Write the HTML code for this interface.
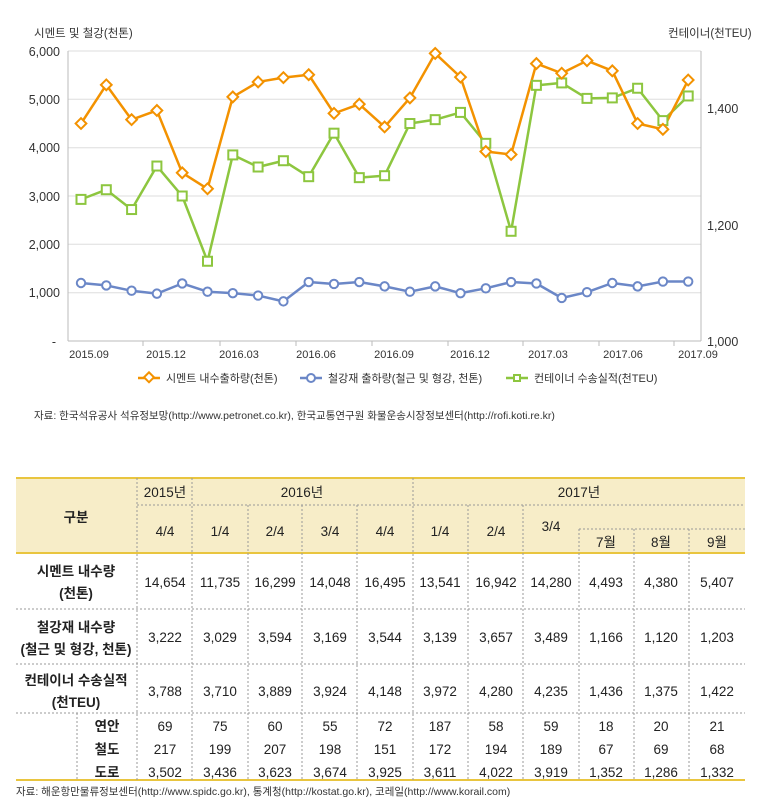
<!DOCTYPE html>
<html><head><meta charset="utf-8"><style>
body{margin:0;background:#fff}
svg{display:block;font-family:"Liberation Sans","Noto Sans CJK KR",sans-serif}
</style></head><body>
<svg id="s" width="770" height="801" viewBox="0 0 770 801" xmlns="http://www.w3.org/2000/svg">
<g stroke="#dedede" stroke-width="1">
<line x1="68" y1="51" x2="701" y2="51"/><line x1="68" y1="99.3" x2="701" y2="99.3"/><line x1="68" y1="147.7" x2="701" y2="147.7"/><line x1="68" y1="196" x2="701" y2="196"/><line x1="68" y1="244.3" x2="701" y2="244.3"/><line x1="68" y1="292.7" x2="701" y2="292.7"/>
</g>
<g stroke="#bbb" stroke-width="1"><line x1="68" y1="51" x2="68" y2="341"/><line x1="701" y1="51" x2="701" y2="341"/><line x1="68" y1="341" x2="701" y2="341"/>
<line x1="143" y1="341" x2="143" y2="346"/><line x1="220" y1="341" x2="220" y2="346"/><line x1="296" y1="341" x2="296" y2="346"/><line x1="372" y1="341" x2="372" y2="346"/><line x1="448" y1="341" x2="448" y2="346"/><line x1="523" y1="341" x2="523" y2="346"/><line x1="599" y1="341" x2="599" y2="346"/><line x1="674" y1="341" x2="674" y2="346"/></g>
<g font-size="12.5" fill="#333" text-anchor="end">
<text x="60" y="56">6,000</text><text x="60" y="104">5,000</text><text x="60" y="152">4,000</text><text x="60" y="201">3,000</text><text x="60" y="249">2,000</text><text x="60" y="297">1,000</text><text x="56" y="346">-</text></g>
<g font-size="12.5" fill="#333"><text x="707" y="113">1,400</text><text x="707" y="230">1,200</text><text x="707" y="346">1,000</text></g>
<text x="34" y="37" font-size="11.5" fill="#333">시멘트 및 철강(천톤)</text>
<text x="668" y="37" font-size="11.5" fill="#333">컨테이너(천TEU)</text>
<g font-size="11" fill="#333" text-anchor="middle"><text x="89" y="358">2015.09</text><text x="166" y="358">2015.12</text><text x="239" y="358">2016.03</text><text x="316" y="358">2016.06</text><text x="394" y="358">2016.09</text><text x="470" y="358">2016.12</text><text x="548" y="358">2017.03</text><text x="623" y="358">2017.06</text><text x="698" y="358">2017.09</text></g>
<g id="series"></g>
<g font-size="11" fill="#333">
<line x1="138" y1="378" x2="160" y2="378" stroke="#f39200" stroke-width="2.5"/><rect x="145" y="374" width="7" height="7" transform="rotate(45 149 378)" fill="#fff" stroke="#f39200" stroke-width="2"/><text x="166" y="382">시멘트 내수출하량(천톤)</text>
<line x1="300" y1="378" x2="322" y2="378" stroke="#6b87c7" stroke-width="2.5"/><circle cx="311" cy="378" r="4" fill="#fff" stroke="#6b87c7" stroke-width="2"/><text x="328" y="382">철강재 출하량(철근 및 형강, 천톤)</text>
<line x1="506" y1="378" x2="528" y2="378" stroke="#8dc63f" stroke-width="2.5"/><rect x="514" y="375" width="6" height="6" fill="#fff" stroke="#8dc63f" stroke-width="2"/><text x="534" y="382">컨테이너 수송실적(천TEU)</text>
</g>
<text x="34" y="419" font-size="10.5" fill="#333">자료: 한국석유공사 석유정보망(http://www.petronet.co.kr), 한국교통연구원 화물운송시장정보센터(http://rofi.koti.re.kr)</text>

<rect x="16" y="478" width="729" height="75" fill="#f7edc8"/>
<line x1="16" y1="478" x2="745" y2="478" stroke="#e9c53f" stroke-width="2"/>
<line x1="16" y1="553" x2="745" y2="553" stroke="#e9c53f" stroke-width="2"/>
<line x1="16" y1="780" x2="745" y2="780" stroke="#e9c53f" stroke-width="2"/>
<g stroke="#999" stroke-width="1" stroke-dasharray="2,2">
<line x1="137" y1="478" x2="137" y2="780"/><line x1="192" y1="478" x2="192" y2="780"/><line x1="248" y1="505" x2="248" y2="780"/><line x1="302" y1="505" x2="302" y2="780"/><line x1="357" y1="505" x2="357" y2="780"/><line x1="413" y1="478" x2="413" y2="780"/><line x1="468" y1="505" x2="468" y2="780"/><line x1="523" y1="505" x2="523" y2="780"/><line x1="579" y1="529" x2="579" y2="780"/><line x1="634" y1="529" x2="634" y2="780"/><line x1="689" y1="529" x2="689" y2="780"/>
<line x1="77" y1="713" x2="77" y2="780"/>
<line x1="137" y1="505" x2="745" y2="505"/><line x1="579" y1="529" x2="745" y2="529"/>
<line x1="16" y1="609" x2="745" y2="609"/><line x1="16" y1="664" x2="745" y2="664"/><line x1="16" y1="713" x2="745" y2="713"/>
</g>
<g font-size="13.5" fill="#222" text-anchor="middle">
<text x="76" y="522" font-weight="bold">구분</text>
<text x="165" y="497">2015년</text><text x="302" y="497">2016년</text><text x="579" y="497">2017년</text>
<text x="165" y="536">4/4</text><text x="220" y="536">1/4</text><text x="275" y="536">2/4</text><text x="330" y="536">3/4</text><text x="385" y="536">4/4</text><text x="440" y="536">1/4</text><text x="496" y="536">2/4</text><text x="551" y="531">3/4</text>
<text x="606" y="547">7월</text><text x="661" y="547">8월</text><text x="717" y="547">9월</text>
<text x="76" y="576" font-weight="bold">시멘트 내수량</text><text x="76" y="598" font-weight="bold">(천톤)</text>
<text x="76" y="632" font-weight="bold">철강재 내수량</text><text x="76" y="654" font-weight="bold">(철근 및 형강, 천톤)</text>
<text x="76" y="685" font-weight="bold">컨테이너 수송실적</text><text x="76" y="707" font-weight="bold">(천TEU)</text>
<text x="107" y="731" font-weight="bold">연안</text><text x="107" y="754" font-weight="bold">철도</text><text x="107" y="777" font-weight="bold">도로</text>
</g>
<g id="cells" font-size="13.5" fill="#222" text-anchor="middle"></g>
<text x="16" y="795" font-size="10.5" fill="#333">자료: 해운항만물류정보센터(http://www.spidc.go.kr), 통계청(http://kostat.go.kr), 코레일(http://www.korail.com)</text>
</svg>
<script>
var NS="http://www.w3.org/2000/svg";
function el(p,t,a,txt){var e=document.createElementNS(NS,t);for(var k in a)e.setAttribute(k,a[k]);if(txt)e.textContent=txt;p.appendChild(e);return e;}
var g=document.getElementById("series");
var O=[4500,5300,4580,4770,3480,3150,5050,5360,5450,5510,4710,4900,4430,5030,5950,5460,3920,3860,5740,5540,5800,5590,4500,4380,5400];
var G=[2930,3130,2720,3620,3000,1650,3850,3600,3730,3400,4300,3380,3420,4500,4580,4730,4090,2270,5290,5340,5020,5030,5230,4560,5070];
var B=[1200,1150,1040,980,1190,1020,990,940,820,1220,1180,1220,1130,1020,1130,990,1090,1220,1190,890,1010,1200,1130,1230,1230];
function X(i){return 81+25.3*i}function Y(v){return 341-v*0.04833}
function line(d,c){el(g,"polyline",{points:d.map(function(v,i){return X(i)+","+Y(v)}).join(" "),fill:"none",stroke:c,"stroke-width":2.5,"stroke-linejoin":"round"});}
line(B,"#6b87c7");line(G,"#8dc63f");line(O,"#f39200");
B.forEach(function(v,i){el(g,"circle",{cx:X(i),cy:Y(v),r:4.2,fill:"#fff",stroke:"#6b87c7","stroke-width":2});});
G.forEach(function(v,i){el(g,"rect",{x:X(i)-4.5,y:Y(v)-4.5,width:9,height:9,fill:"#fff",stroke:"#8dc63f","stroke-width":2});});
O.forEach(function(v,i){var x=X(i),y=Y(v);el(g,"rect",{x:x-3.8,y:y-3.8,width:7.6,height:7.6,transform:"rotate(45 "+x+" "+y+")",fill:"#fff",stroke:"#f39200","stroke-width":2});});
var cx=[165,220,275,330,385,440,496,551,606,661,717];
var rows=[[587,"14,654 11,735 16,299 14,048 16,495 13,541 16,942 14,280 4,493 4,380 5,407"],[642,"3,222 3,029 3,594 3,169 3,544 3,139 3,657 3,489 1,166 1,120 1,203"],[696,"3,788 3,710 3,889 3,924 4,148 3,972 4,280 4,235 1,436 1,375 1,422"],[731,"69 75 60 55 72 187 58 59 18 20 21"],[754,"217 199 207 198 151 172 194 189 67 69 68"],[777,"3,502 3,436 3,623 3,674 3,925 3,611 4,022 3,919 1,352 1,286 1,332"]];
var c=document.getElementById("cells");
rows.forEach(function(r){r[1].split(" ").forEach(function(t,i){el(c,"text",{x:cx[i],y:r[0]},t);});});
</script>
</body></html>
